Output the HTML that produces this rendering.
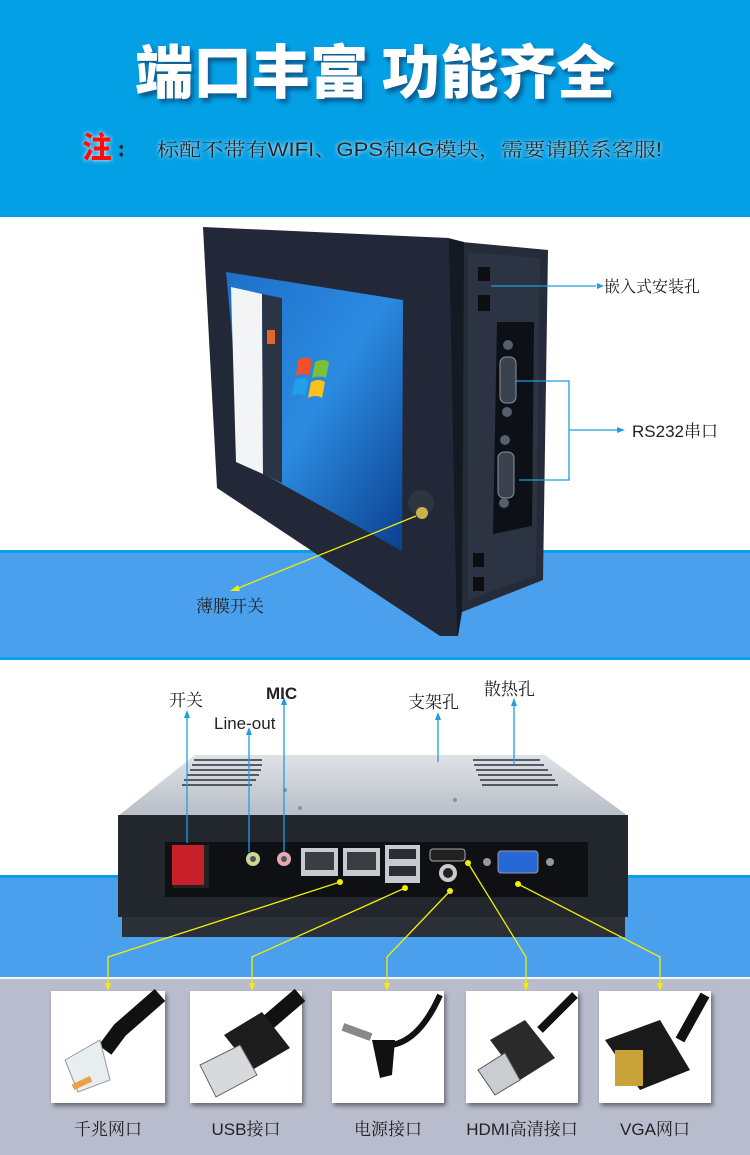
<!DOCTYPE html>
<html><head><meta charset="utf-8"><style>
html,body{margin:0;padding:0;width:750px;height:1155px;overflow:hidden;}
svg{display:block}
text{font-family:"Liberation Sans","Noto Serif CJK SC","Noto Sans CJK SC",sans-serif;}
</style></head><body>
<svg width="750" height="1155" viewBox="0 0 750 1155" xmlns="http://www.w3.org/2000/svg">
<defs>
<filter id="sh" x="-10%" y="-20%" width="130%" height="150%"><feDropShadow dx="3" dy="4" stdDeviation="2" flood-color="#0a3a66" flood-opacity="0.7"/></filter>
<filter id="glow" x="-5%" y="-30%" width="110%" height="160%"><feDropShadow dx="0" dy="0" stdDeviation="2" flood-color="#ffffff" flood-opacity="0.9"/></filter>
<linearGradient id="scr" x1="0" y1="0" x2="1" y2="1"><stop offset="0" stop-color="#1f6fc9"/><stop offset="0.5" stop-color="#2b8be0"/><stop offset="1" stop-color="#0b3f8f"/></linearGradient>
<linearGradient id="top" x1="0" y1="0" x2="0" y2="1"><stop offset="0" stop-color="#dfe2e7"/><stop offset="1" stop-color="#b8bec7"/></linearGradient>
<filter id="cs"><feDropShadow dx="2" dy="3" stdDeviation="2" flood-color="#333" flood-opacity="0.6"/></filter>
</defs>
<!-- header -->
<rect x="0" y="0" width="750" height="217" fill="#03a0e6"/>
<text x="375" y="93" text-anchor="middle" font-size="58" font-weight="900" fill="#fff" filter="url(#sh)" style="font-family:'Noto Sans CJK SC','WenQuanYi Zen Hei',sans-serif" textLength="480" lengthAdjust="spacingAndGlyphs">端口丰富 功能齐全</text>
<text x="82" y="158" font-size="30" font-weight="900" fill="#ff1010" style="font-family:'Noto Sans CJK SC',sans-serif" filter="url(#glow)">注</text>
<text x="118" y="156" font-size="20" font-weight="bold" fill="#222" style="font-family:'Noto Sans CJK SC',sans-serif">:</text>
<text x="157" y="156" font-size="19" fill="#222" filter="url(#glow)" textLength="505" lengthAdjust="spacingAndGlyphs">标配不带有WIFI、GPS和4G模块，需要请联系客服!</text>
<!-- section 2 -->
<rect x="0" y="217" width="750" height="333" fill="#fff"/>
<rect x="0" y="550" width="750" height="110" fill="#4aa0ec"/>
<rect x="0" y="550" width="750" height="3" fill="#0aa0e6"/>
<rect x="0" y="657" width="750" height="3" fill="#0aa0e6"/>
<!-- monitor side box -->
<polygon points="462,242 548,250 543,580 462,612" fill="#252b38"/>
<polygon points="468,252 540,258 536,575 468,600" fill="#2c3342"/>
<rect x="478" y="267" width="12" height="14" fill="#0c0e12"/>
<rect x="478" y="295" width="12" height="16" fill="#0c0e12"/>
<rect x="473" y="553" width="11" height="14" fill="#0c0e12"/>
<rect x="473" y="577" width="11" height="14" fill="#0c0e12"/>
<polygon points="497,322 534,322 532,526 493,534" fill="#0d1016"/>
<rect x="500" y="357" width="16" height="46" rx="6" fill="#3a4250" stroke="#8a93a0"/>
<rect x="498" y="452" width="16" height="46" rx="6" fill="#3a4250" stroke="#8a93a0"/>
<circle cx="508" cy="345" r="5" fill="#555e6b"/><circle cx="507" cy="412" r="5" fill="#555e6b"/>
<circle cx="505" cy="440" r="5" fill="#555e6b"/><circle cx="504" cy="503" r="5" fill="#555e6b"/>
<polygon points="448,238 464,242 462,612 458,636 448,634" fill="#151922"/>
<!-- front bezel -->
<polygon points="203,227 449,238 457,636 440,636 217,488" fill="#222837"/>
<polygon points="226,272 403,300 402,551 244,463" fill="url(#scr)"/>
<polygon points="231,287 262,294 263,474 236,462" fill="#f2f4f6"/>
<polygon points="262,294 282,298 282,483 263,474" fill="#2a3444"/>
<rect x="267" y="330" width="8" height="14" fill="#e0662a"/>
<g transform="translate(298,360)">
<path d="M0,0 q8,-5 14,0 l-3,16 q-6,-4 -13,0z" fill="#f0502a"/>
<path d="M17,2 q8,-4 14,0 l-3,16 q-6,-3 -14,0z" fill="#7cc03a"/>
<path d="M-3,20 q8,-4 13,0 l-3,16 q-6,-4 -13,0z" fill="#21a0e8"/>
<path d="M13,22 q8,-4 14,0 l-3,16 q-6,-4 -14,0z" fill="#f8c21a"/>
</g>
<circle cx="421" cy="503" r="13" fill="#2d3442"/>
<circle cx="422" cy="513" r="6" fill="#c9b24a"/>
<!-- arrows section 2 -->
<line x1="491" y1="286" x2="596" y2="286" stroke="#1e9ee0" stroke-width="1.3"/>
<polygon points="597,283 604,286 597,289" fill="#1e9ee0"/>
<text x="604" y="292" font-size="16" fill="#222">嵌入式安装孔</text>
<polyline points="515,381 569,381 569,480 519,480" fill="none" stroke="#1e9ee0" stroke-width="1.3"/>
<line x1="569" y1="430" x2="617" y2="430" stroke="#1e9ee0" stroke-width="1.3"/>
<polygon points="617,427 625,430 617,433" fill="#1e9ee0"/>
<text x="632" y="437" font-size="17" fill="#222">RS232串口</text>
<line x1="416" y1="516" x2="236" y2="589" stroke="#f2ef00" stroke-width="1.3"/>
<polygon points="230,591 238,585 240,591" fill="#f2ef00"/>
<text x="196" y="612" font-size="17" fill="#222">薄膜开关</text>
<!-- section 3 -->
<rect x="0" y="660" width="750" height="218" fill="#fff"/>
<rect x="0" y="877" width="750" height="102" fill="#4aa0ec"/>
<rect x="0" y="875" width="750" height="3" fill="#0aa0e6"/>
<rect x="0" y="978" width="750" height="177" fill="#b8bccd"/>
<rect x="0" y="977" width="750" height="2" fill="#f4f6fa"/>
<!-- box -->
<polygon points="195,755 545,755 628,816 118,816" fill="url(#top)"/>
<g stroke="#2b3039" stroke-width="1.5">
<line x1="194" y1="760" x2="262" y2="760"/><line x1="192" y1="765" x2="262" y2="765"/><line x1="190" y1="770" x2="261" y2="770"/><line x1="187" y1="775" x2="259" y2="775"/><line x1="184" y1="780" x2="256" y2="780"/><line x1="182" y1="785" x2="252" y2="785"/>
<line x1="473" y1="760" x2="540" y2="760"/><line x1="474" y1="765" x2="544" y2="765"/><line x1="476" y1="770" x2="548" y2="770"/><line x1="478" y1="775" x2="552" y2="775"/><line x1="480" y1="780" x2="555" y2="780"/><line x1="482" y1="785" x2="558" y2="785"/>
</g>
<g fill="#8a9098"><circle cx="300" cy="808" r="2"/><circle cx="455" cy="800" r="2"/><circle cx="285" cy="790" r="2"/></g>
<rect x="118" y="815" width="510" height="102" fill="#22262d"/>
<rect x="122" y="917" width="503" height="20" fill="#2b3038"/>
<rect x="165" y="842" width="423" height="55" fill="#0e1014"/>
<rect x="173" y="845" width="36" height="43" fill="#222"/>
<rect x="172" y="845" width="32" height="40" fill="#c8202a"/>
<circle cx="253" cy="859" r="7" fill="#c8d99a"/><circle cx="253" cy="859" r="3" fill="#555"/>
<circle cx="284" cy="859" r="7" fill="#e7a7b3"/><circle cx="284" cy="859" r="3" fill="#555"/>
<rect x="301" y="848" width="37" height="28" fill="#c7cbd0"/><rect x="305" y="852" width="29" height="18" fill="#3a3d42"/>
<rect x="343" y="848" width="37" height="28" fill="#c7cbd0"/><rect x="347" y="852" width="29" height="18" fill="#3a3d42"/>
<rect x="385" y="845" width="35" height="38" fill="#c7cbd0"/><rect x="389" y="849" width="27" height="10" fill="#2a2d31"/><rect x="389" y="866" width="27" height="10" fill="#2a2d31"/>
<rect x="430" y="849" width="35" height="12" rx="3" fill="#222" stroke="#aaa"/>
<circle cx="448" cy="873" r="9" fill="#ccc"/><circle cx="448" cy="873" r="5" fill="#222"/>
<rect x="498" y="851" width="40" height="22" rx="3" fill="#2568d6" stroke="#999"/>
<circle cx="487" cy="862" r="4" fill="#999"/><circle cx="550" cy="862" r="4" fill="#999"/>
<!-- blue labels -->
<g stroke="#1e9ee0" stroke-width="1.3">
<line x1="187" y1="843" x2="187" y2="718"/><line x1="249" y1="852" x2="249" y2="735"/><line x1="284" y1="852" x2="284" y2="705"/>
<line x1="438" y1="762" x2="438" y2="720"/><line x1="514" y1="765" x2="514" y2="706"/>
</g>
<g fill="#1e9ee0">
<polygon points="184,718 187,710 190,718"/><polygon points="246,735 249,727 252,735"/><polygon points="281,705 284,697 287,705"/>
<polygon points="435,720 438,712 441,720"/><polygon points="511,706 514,698 517,706"/>
</g>
<text x="169" y="706" font-size="17" fill="#222">开关</text>
<text x="266" y="699" font-size="17" fill="#222" font-family="Liberation Mono,monospace" font-weight="bold">MIC</text>
<text x="214" y="729" font-size="17" fill="#222" font-family="Liberation Mono,monospace">Line-out</text>
<text x="408" y="708" font-size="17" fill="#222">支架孔</text>
<text x="484" y="695" font-size="17" fill="#222">散热孔</text>
<!-- yellow -->
<g stroke="#f2ef00" stroke-width="1.3" fill="none">
<polyline points="340,882 108,957 108,985"/>
<polyline points="405,888 252,957 252,985"/>
<polyline points="450,891 387,957 387,985"/>
<polyline points="468,863 526,957 526,985"/>
<polyline points="518,884 660,957 660,985"/>
</g>
<g fill="#f2ef00">
<circle cx="340" cy="882" r="3"/><circle cx="405" cy="888" r="3"/><circle cx="450" cy="891" r="3"/><circle cx="468" cy="863" r="3"/><circle cx="518" cy="884" r="3"/>
<polygon points="105,983 108,991 111,983"/><polygon points="249,983 252,991 255,983"/><polygon points="384,983 387,991 390,983"/><polygon points="523,983 526,991 529,983"/><polygon points="657,983 660,991 663,983"/>
</g>
<!-- cards -->
<g filter="url(#cs)" fill="#fff">
<rect x="51" y="991" width="114" height="112"/><rect x="190" y="991" width="112" height="112"/><rect x="332" y="991" width="112" height="112"/><rect x="466" y="991" width="112" height="112"/><rect x="599" y="991" width="112" height="112"/>
</g>
<!-- cable icons -->
<path d="M160,995 L120,1030 L105,1050" stroke="#111" stroke-width="16" fill="none"/>
<polygon points="65,1060 100,1040 110,1080 78,1092" fill="#e8eef0" stroke="#999"/>
<rect x="72" y="1080" width="20" height="6" fill="#e9a04a" transform="rotate(-25 82 1083)"/>
<path d="M300,995 L265,1025" stroke="#111" stroke-width="16" fill="none"/>
<polygon points="224,1035 262,1012 290,1048 252,1070" fill="#1c1c1c"/>
<polygon points="200,1065 240,1045 257,1075 216,1097" fill="#d7d9dc" stroke="#666"/>
<path d="M440,995 Q420,1040 392,1045" stroke="#111" stroke-width="6" fill="none"/>
<polygon points="372,1040 395,1040 392,1075 380,1078" fill="#111"/>
<rect x="342" y="1028" width="30" height="8" fill="#888" transform="rotate(20 357 1032)"/>
<path d="M575,995 L540,1030" stroke="#111" stroke-width="8" fill="none"/>
<polygon points="490,1040 525,1020 555,1058 520,1080" fill="#2a2a2a"/>
<polygon points="478,1070 505,1053 520,1080 495,1095" fill="#c9cdd2" stroke="#555"/>
<path d="M705,995 L680,1040" stroke="#111" stroke-width="10" fill="none"/>
<polygon points="605,1040 660,1020 690,1070 640,1090" fill="#1a1a1a"/>
<rect x="615" y="1050" width="28" height="36" fill="#c9a23a"/>
<g font-size="17" fill="#222" text-anchor="middle">
<text x="108" y="1135">千兆网口</text>
<text x="246" y="1135">USB接口</text>
<text x="388" y="1135">电源接口</text>
<text x="522" y="1135">HDMI高清接口</text>
<text x="655" y="1135">VGA网口</text>
</g>
</svg>
</body></html>
